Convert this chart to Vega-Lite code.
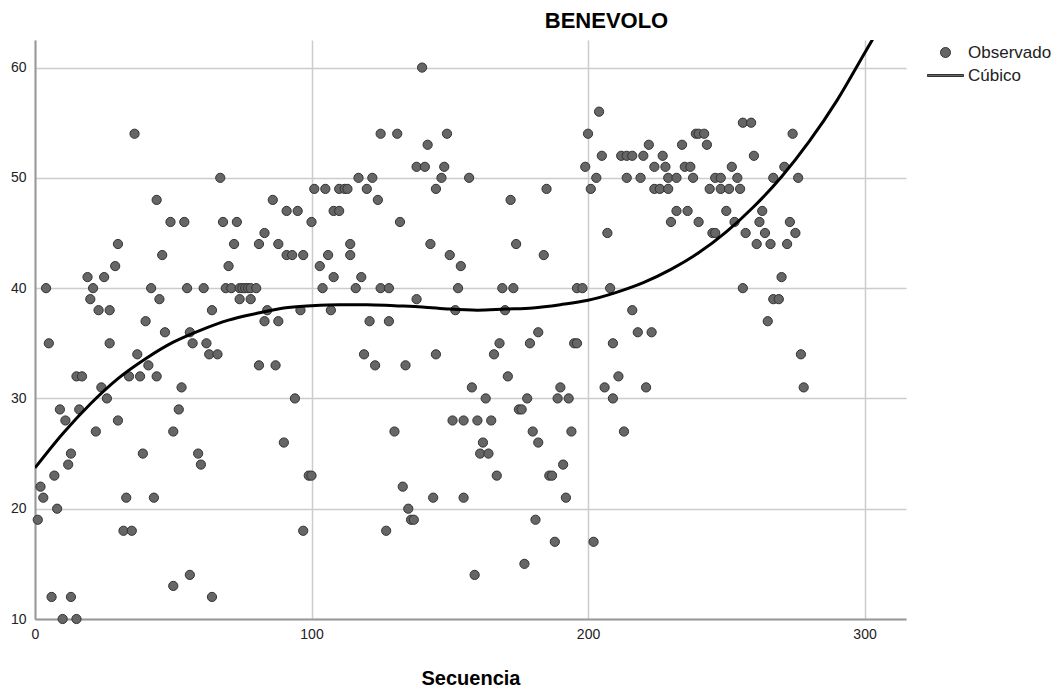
{
  "$schema": "https://vega.github.io/schema/vega-lite/v6.json",
  "width": 871,
  "height": 579,
  "autosize": "none",
  "padding": {"left": 35, "top": 40, "right": 150, "bottom": 72},
  "background": "white",
  "title": {"text": "BENEVOLO", "fontSize": 22, "font": "Liberation Sans, Arial", "fontWeight": "bold", "anchor": "middle", "dx": 136, "offset": 7, "color": "#000000"},
  "datasets": {
    "obs": [
      {"s":36,"v":54},{"s":67,"v":50},{"s":44,"v":48},{"s":49,"v":46},{"s":54,"v":46},{"s":68,"v":46},{"s":73,"v":46},{"s":30,"v":44},{"s":72,"v":44},{"s":46,"v":43},{"s":29,"v":42},{"s":70,"v":42},{"s":19,"v":41},{"s":25,"v":41},{"s":4,"v":40},{"s":21,"v":40},{"s":42,"v":40},{"s":55,"v":40},{"s":61,"v":40},{"s":69,"v":40},{"s":71,"v":40},{"s":74,"v":40},{"s":75,"v":40},{"s":76,"v":40},{"s":77,"v":40},{"s":78,"v":40},{"s":80,"v":40},{"s":20,"v":39},{"s":45,"v":39},{"s":74,"v":39},{"s":78,"v":39},{"s":23,"v":38},{"s":27,"v":38},{"s":64,"v":38},{"s":40,"v":37},
      {"s":47,"v":36},{"s":56,"v":36},{"s":5,"v":35},{"s":27,"v":35},{"s":57,"v":35},{"s":62,"v":35},{"s":37,"v":34},{"s":63,"v":34},{"s":66,"v":34},{"s":41,"v":33},{"s":15,"v":32},{"s":17,"v":32},{"s":34,"v":32},{"s":38,"v":32},{"s":44,"v":32},{"s":24,"v":31},{"s":53,"v":31},{"s":26,"v":30},{"s":9,"v":29},{"s":16,"v":29},{"s":52,"v":29},{"s":11,"v":28},{"s":30,"v":28},{"s":22,"v":27},{"s":50,"v":27},{"s":13,"v":25},{"s":12,"v":24},{"s":39,"v":25},{"s":59,"v":25},{"s":60,"v":24},{"s":7,"v":23},{"s":2,"v":22},{"s":3,"v":21},{"s":33,"v":21},{"s":43,"v":21},{"s":8,"v":20},{"s":1,"v":19},{"s":32,"v":18},{"s":35,"v":18},{"s":56,"v":14},{"s":50,"v":13},{"s":6,"v":12},{"s":13,"v":12},{"s":64,"v":12},{"s":10,"v":10},{"s":15,"v":10},
      {"s":140,"v":60},{"s":125,"v":54},{"s":131,"v":54},{"s":149,"v":54},{"s":142,"v":53},{"s":138,"v":51},{"s":141,"v":51},{"s":148,"v":51},{"s":117,"v":50},{"s":122,"v":50},{"s":147,"v":50},{"s":157,"v":50},{"s":101,"v":49},{"s":105,"v":49},{"s":110,"v":49},{"s":112,"v":49},{"s":113,"v":49},{"s":120,"v":49},{"s":145,"v":49},{"s":86,"v":48},{"s":124,"v":48},{"s":91,"v":47},{"s":95,"v":47},{"s":108,"v":47},{"s":110,"v":47},{"s":100,"v":46},{"s":132,"v":46},{"s":83,"v":45},{"s":81,"v":44},{"s":88,"v":44},{"s":114,"v":44},{"s":143,"v":44},{"s":91,"v":43},{"s":93,"v":43},{"s":97,"v":43},{"s":106,"v":43},{"s":114,"v":43},{"s":150,"v":43},{"s":103,"v":42},{"s":154,"v":42},{"s":108,"v":41},{"s":118,"v":41},{"s":104,"v":40},{"s":116,"v":40},{"s":125,"v":40},{"s":128,"v":40},{"s":153,"v":40},{"s":138,"v":39},{"s":84,"v":38},{"s":96,"v":38},{"s":107,"v":38},{"s":152,"v":38},{"s":83,"v":37},{"s":88,"v":37},{"s":121,"v":37},{"s":128,"v":37},
      {"s":119,"v":34},{"s":145,"v":34},{"s":81,"v":33},{"s":87,"v":33},{"s":123,"v":33},{"s":134,"v":33},{"s":94,"v":30},{"s":151,"v":28},{"s":155,"v":28},{"s":130,"v":27},{"s":90,"v":26},{"s":99,"v":23},{"s":100,"v":23},{"s":133,"v":22},{"s":144,"v":21},{"s":155,"v":21},{"s":135,"v":20},{"s":136,"v":19},{"s":137,"v":19},{"s":97,"v":18},{"s":127,"v":18},
      {"s":204,"v":56},{"s":200,"v":54},{"s":222,"v":53},{"s":205,"v":52},{"s":212,"v":52},{"s":214,"v":52},{"s":216,"v":52},{"s":220,"v":52},{"s":227,"v":52},{"s":199,"v":51},{"s":224,"v":51},{"s":228,"v":51},{"s":203,"v":50},{"s":214,"v":50},{"s":219,"v":50},{"s":229,"v":50},{"s":232,"v":50},{"s":185,"v":49},{"s":201,"v":49},{"s":224,"v":49},{"s":226,"v":49},{"s":229,"v":49},{"s":172,"v":48},{"s":232,"v":47},{"s":230,"v":46},{"s":207,"v":45},{"s":174,"v":44},{"s":184,"v":43},{"s":169,"v":40},{"s":173,"v":40},{"s":196,"v":40},{"s":198,"v":40},{"s":208,"v":40},{"s":170,"v":38},{"s":216,"v":38},{"s":182,"v":36},{"s":218,"v":36},{"s":223,"v":36},
      {"s":168,"v":35},{"s":179,"v":35},{"s":195,"v":35},{"s":196,"v":35},{"s":209,"v":35},{"s":166,"v":34},{"s":171,"v":32},{"s":211,"v":32},{"s":158,"v":31},{"s":190,"v":31},{"s":206,"v":31},{"s":221,"v":31},{"s":163,"v":30},{"s":178,"v":30},{"s":189,"v":30},{"s":193,"v":30},{"s":209,"v":30},{"s":175,"v":29},{"s":176,"v":29},{"s":160,"v":28},{"s":165,"v":28},{"s":180,"v":27},{"s":194,"v":27},{"s":213,"v":27},{"s":162,"v":26},{"s":182,"v":26},{"s":161,"v":25},{"s":164,"v":25},{"s":191,"v":24},{"s":167,"v":23},{"s":186,"v":23},{"s":187,"v":23},{"s":192,"v":21},{"s":181,"v":19},{"s":188,"v":17},{"s":202,"v":17},{"s":177,"v":15},{"s":159,"v":14},
      {"s":256,"v":55},{"s":259,"v":55},{"s":239,"v":54},{"s":240,"v":54},{"s":242,"v":54},{"s":274,"v":54},{"s":234,"v":53},{"s":243,"v":53},{"s":260,"v":52},{"s":235,"v":51},{"s":237,"v":51},{"s":252,"v":51},{"s":271,"v":51},{"s":238,"v":50},{"s":246,"v":50},{"s":248,"v":50},{"s":254,"v":50},{"s":267,"v":50},{"s":276,"v":50},{"s":244,"v":49},{"s":248,"v":49},{"s":251,"v":49},{"s":255,"v":49},{"s":236,"v":47},{"s":250,"v":47},{"s":263,"v":47},{"s":240,"v":46},{"s":253,"v":46},{"s":262,"v":46},{"s":273,"v":46},{"s":245,"v":45},{"s":246,"v":45},{"s":257,"v":45},{"s":264,"v":45},{"s":275,"v":45},{"s":261,"v":44},{"s":266,"v":44},{"s":272,"v":44},{"s":270,"v":41},{"s":256,"v":40},{"s":267,"v":39},{"s":269,"v":39},{"s":265,"v":37},{"s":277,"v":34},{"s":278,"v":31}
    ],
    "fit": [
      {"s":0,"v":23.7},{"s":10,"v":26.8},{"s":20,"v":29.5},{"s":30,"v":31.8},{"s":40,"v":33.6},{"s":50,"v":35.1},{"s":60,"v":36.2},{"s":70,"v":37.1},{"s":80,"v":37.7},{"s":90,"v":38.2},{"s":100,"v":38.4},{"s":110,"v":38.5},{"s":120,"v":38.5},{"s":130,"v":38.4},{"s":140,"v":38.3},{"s":150,"v":38.1},{"s":160,"v":38.0},{"s":170,"v":38.1},{"s":180,"v":38.2},{"s":190,"v":38.5},{"s":200,"v":38.9},{"s":210,"v":39.6},{"s":220,"v":40.5},{"s":230,"v":41.7},{"s":240,"v":43.2},{"s":250,"v":45.1},{"s":260,"v":47.4},{"s":270,"v":50.1},{"s":280,"v":53.3},{"s":290,"v":57.0},{"s":300,"v":61.3},{"s":303,"v":62.6}
    ]
  },
  "layer": [
    {
      "data": {"name": "obs"},
      "mark": {"type": "point", "filled": true, "fill": "#666666", "stroke": "#333333", "strokeWidth": 1, "size": 85, "opacity": 1},
      "encoding": {
        "x": {"field": "s", "type": "quantitative", "scale": {"domain": [0, 315], "nice": false, "zero": false},
              "axis": {"values": [0, 100, 200, 300], "title": "Secuencia", "titleFontSize": 20, "titlePadding": 27, "labelPadding": 8, "labelFlush": false}},
        "y": {"field": "v", "type": "quantitative", "scale": {"domain": [10, 62.5], "nice": false, "zero": false},
              "axis": {"values": [10, 20, 30, 40, 50, 60], "title": null, "labelPadding": 9, "labelFlush": false}},
        "shape": {"datum": "Observado", "type": "nominal",
                  "scale": {"domain": ["Observado", "Cúbico"], "range": ["circle", "M-3.6,-0.2H3.6V0.2H-3.6Z"]},
                  "legend": {"title": null, "orient": "none", "legendX": 902, "legendY": 4, "symbolSize": 100, "labelFontSize": 17, "labelFont": "Liberation Sans, Arial", "labelColor": "#222222", "labelOffset": 14, "rowPadding": 5, "symbolStrokeWidth": 1,
                    "encode": {"symbols": {"update": {
                      "fill": [{"test": "datum.index === 1", "value": "#000000"}, {"value": "#666666"}],
                      "stroke": [{"test": "datum.index === 1", "value": "#000000"}, {"value": "#333333"}],
                      "opacity": {"value": 1}
                    }}}}}
      }
    },
    {
      "data": {"name": "fit"},
      "mark": {"type": "line", "color": "#000000", "strokeWidth": 3, "interpolate": "monotone", "clip": true},
      "encoding": {
        "x": {"field": "s", "type": "quantitative"},
        "y": {"field": "v", "type": "quantitative"}
      }
    }
  ],
  "config": {
    "view": {"stroke": null},
    "axis": {"grid": true, "gridColor": "#cccccc", "gridWidth": 1.5, "domainColor": "#999999", "domainWidth": 2, "ticks": false,
             "labelFont": "Liberation Sans, Arial", "labelFontSize": 14, "labelColor": "#222222",
             "titleFont": "Liberation Sans, Arial", "titleFontWeight": "bold", "titleColor": "#000000"}
  }
}
